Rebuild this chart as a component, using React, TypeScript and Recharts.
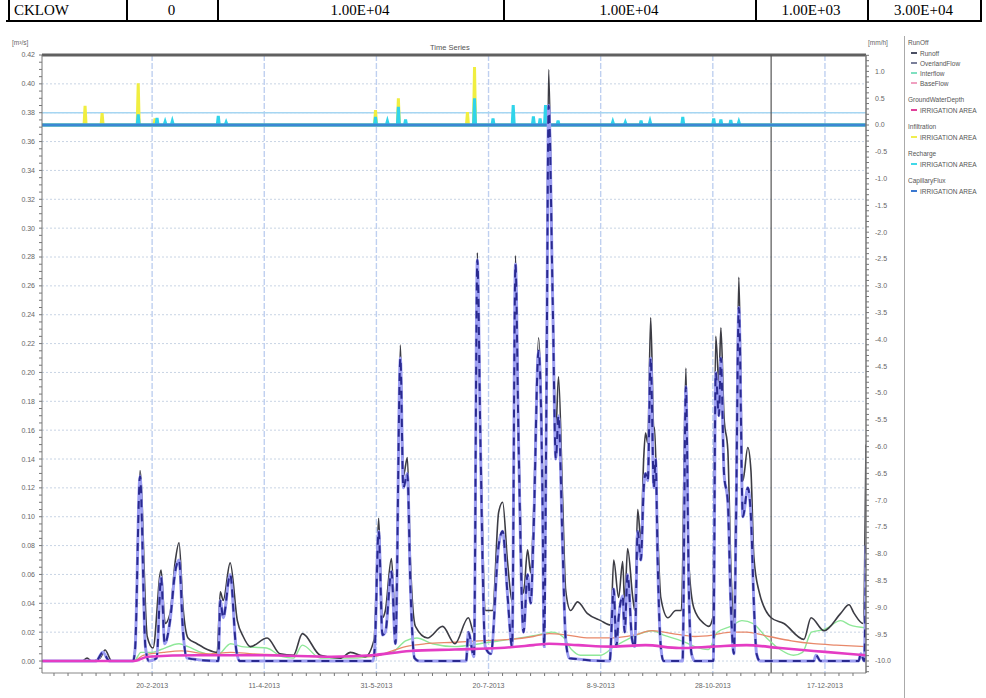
import { CartesianGrid, Line, LineChart, ReferenceLine, XAxis, YAxis } from "recharts";

// left axis [m3/s], points are [day of 2013 (0 = 1 Jan), value]
const runoff: [number, number][] = [
  [1, 0], [18.8, 0], [21, 0.002], [23, 0], [26.8, 0.002], [29, 0.0076], [32, 0], [41.5, 0], [42.4, 0.01],
  [44.6, 0.132], [47.8, 0.017], [50.4, 0.009], [54, 0.063], [55.8, 0.026], [58, 0.033], [60.3, 0.069],
  [62, 0.082], [63.8, 0.037], [66, 0.016], [70, 0.012], [74.6, 0.008], [79, 0.006], [80.4, 0.048],
  [81.7, 0.042], [84.8, 0.068], [88, 0.028], [90.6, 0.017], [93.8, 0.01], [101.3, 0.016], [107, 0.005],
  [113, 0.004], [117, 0.019], [125, 0.004], [134, 0.002], [138.4, 0.006], [145, 0.003], [149, 0.015],
  [151, 0.099], [152.7, 0.03], [154, 0.035], [156.7, 0.071], [158.5, 0.026], [160.7, 0.219], [162, 0.128],
  [163.8, 0.141], [165.2, 0.068], [167.4, 0.024], [172.8, 0.016], [179.5, 0.024], [185, 0.012], [191, 0.03],
  [193.8, 0.018], [195, 0.283], [196.4, 0.16], [198.7, 0.035], [201.8, 0.035], [204.5, 0.103], [206.3, 0.11],
  [208.5, 0.068], [210.7, 0.04], [212, 0.281], [213.4, 0.16], [215.6, 0.047], [217.4, 0.077], [218.8, 0.061],
  [220, 0.099], [222.3, 0.224], [224, 0.137], [224.8, 0.035], [225.9, 0.225], [226.8, 0.41], [228.6, 0.257],
  [230, 0.16], [231.2, 0.197], [233, 0.114], [234.4, 0.049], [236.6, 0.035], [239.7, 0.041], [244, 0.033],
  [250, 0.028], [254.5, 0.025], [255.8, 0.07], [258, 0.044], [259.8, 0.069], [260.7, 0.04], [262, 0.078],
  [264.3, 0.044], [265.2, 0.035], [266.5, 0.105], [267.9, 0.084], [269.2, 0.141], [270, 0.158], [271, 0.151],
  [272.3, 0.238], [273.7, 0.16], [274, 0.162], [275.4, 0.091], [276.8, 0.044], [280, 0.03], [283.5, 0.035],
  [286, 0.035], [288, 0.203], [289.3, 0.068], [291.5, 0.037], [296, 0.026], [298.2, 0.024], [300, 0.03],
  [301.3, 0.225], [302.7, 0.193], [303.6, 0.231], [305, 0.169], [306.7, 0.146], [308, 0.068], [309.4, 0.026],
  [310.3, 0.114], [311.6, 0.266], [313.4, 0.125], [315.6, 0.148], [317, 0.132], [318.3, 0.072], [320.5, 0.049],
  [326, 0.03], [331.7, 0.026], [340.6, 0.015], [343.8, 0.03], [349.6, 0.021], [357, 0.033], [360.7, 0.039],
  [363, 0.033], [367, 0.026], [368.3, 0.15],
];

const overlandFlow: [number, number][] = [
  [1, 0], [25, 0], [28, 0.006], [31, 0], [41.5, 0], [42.4, 0.008], [44.6, 0.128], [47, 0.01], [48.5, 0],
  [52, 0.002], [54, 0.058], [55.6, 0.012], [58, 0.028], [60.3, 0.062], [62, 0.07], [63.8, 0.02], [65.5, 0.002],
  [79.5, 0], [80.4, 0.042], [81.7, 0.03], [84.8, 0.06], [87.5, 0.008], [89, 0], [148.5, 0], [149.3, 0.01],
  [151, 0.09], [152.7, 0.018], [154, 0.02], [156.7, 0.062], [158.5, 0.012], [160.7, 0.21], [162, 0.12],
  [163.8, 0.13], [165.2, 0.05], [167, 0.002], [169, 0], [190, 0], [191, 0.02], [193.5, 0.003], [195, 0.278],
  [196.4, 0.15], [198.5, 0.01], [201, 0.005], [204.5, 0.08], [206.3, 0.09], [208.5, 0.045], [210.5, 0.01],
  [212, 0.275], [213.4, 0.15], [215.6, 0.02], [217.4, 0.06], [218.8, 0.04], [220, 0.085], [222.3, 0.215],
  [224, 0.12], [224.8, 0.01], [225.9, 0.2], [226.8, 0.385], [228.6, 0.25], [230, 0.14], [231.2, 0.17],
  [233, 0.08], [234.4, 0.015], [236, 0.002], [254, 0], [255.8, 0.05], [257, 0.01], [258, 0.03], [259.8, 0.045],
  [260.7, 0.02], [262, 0.06], [264, 0.015], [265.2, 0.01], [266.5, 0.09], [267.9, 0.07], [269.2, 0.12],
  [270, 0.13], [271, 0.125], [272.3, 0.21], [273.7, 0.12], [274.5, 0.14], [275.4, 0.07], [276.8, 0.01],
  [278, 0], [286.5, 0], [288, 0.19], [289.3, 0.05], [290.5, 0.005], [292, 0], [300.2, 0], [301.3, 0.2],
  [302.7, 0.17], [303.6, 0.21], [305, 0.13], [306.7, 0.11], [308, 0.04], [309.4, 0.005], [310.3, 0.09],
  [311.6, 0.245], [313.4, 0.1], [315.6, 0.12], [317, 0.1], [318.3, 0.04], [319.5, 0.005], [321, 0],
  [345, 0], [346, 0.004], [348, 0], [365, 0], [366, 0.005], [367.5, 0], [368.3, 0.08],
];

const interflow: [number, number][] = [
  [1, 0], [42, 0], [45, 0.006], [50, 0.006], [54, 0.008], [62, 0.012], [66, 0.01], [72, 0.006], [79, 0.004],
  [85, 0.012], [90, 0.01], [101, 0.009], [108, 0.003], [113, 0.002], [117, 0.011], [125, 0.002], [140, 0.002],
  [150, 0.004], [157, 0.006], [163, 0.014], [168, 0.016], [175, 0.012], [185, 0.01], [196, 0.012], [205, 0.014],
  [214, 0.016], [222, 0.018], [228, 0.02], [233, 0.017], [237, 0.008], [241, 0.004], [250, 0.004], [256, 0.01],
  [262, 0.015], [266, 0.018], [273, 0.021], [278, 0.018], [286, 0.014], [289, 0.012], [292, 0.01], [298, 0.008],
  [302, 0.02], [308, 0.024], [313, 0.028], [318, 0.026], [324, 0.016], [330, 0.008], [336, 0.004], [340, 0.006],
  [344, 0.02], [350, 0.022], [357, 0.028], [361, 0.025], [368.3, 0.023],
];

const baseFlow: [number, number][] = [
  [1, 0], [42, 0], [46, 0.004], [55, 0.006], [63, 0.007], [75, 0.005], [85, 0.006], [95, 0.005], [110, 0.004],
  [130, 0.003], [148, 0.003], [155, 0.006], [163, 0.01], [172, 0.012], [185, 0.013], [196, 0.014], [210, 0.015],
  [220, 0.017], [227, 0.019], [235, 0.018], [245, 0.016], [255, 0.016], [265, 0.018], [273, 0.021], [282, 0.019],
  [292, 0.017], [300, 0.018], [308, 0.02], [315, 0.02], [325, 0.017], [335, 0.014], [345, 0.012], [355, 0.011],
  [368.3, 0.01],
];

const groundWaterDepth: [number, number][] = [
  [1, 0], [42, 0], [48, 0.003], [70, 0.004], [100, 0.004], [130, 0.003], [148, 0.004], [165, 0.007],
  [185, 0.008], [205, 0.009], [220, 0.011], [227, 0.012], [240, 0.011], [255, 0.01], [270, 0.011],
  [285, 0.009], [300, 0.01], [315, 0.011], [330, 0.009], [345, 0.007], [360, 0.005], [368.3, 0.004],
];

// right axis [mm/h], short pulses
const infiltrationDays = [20.1, 27.7, 43.8, 51.3, 149.6, 159.8, 190.6, 193.75];
const infiltrationVals = [0.36, 0.22, 0.78, 0.12, 0.28, 0.5, 0.24, 1.08];
const rechargeDays = [43.8, 52.2, 55.8, 59, 79.5, 83, 149.6, 154.9, 159.8, 163, 193.75, 202, 211, 220, 223,
  225.4, 231, 255.4, 261, 268, 272, 286.6, 300.4, 303.6, 308, 311.6];
const rechargeVals = [0.2, 0.13, 0.06, 0.07, 0.17, 0.05, 0.15, 0.07, 0.34, 0.1, 0.5, 0.12, 0.37, 0.16, 0.12,
  0.37, 0.08, 0.06, 0.05, 0.08, 0.07, 0.15, 0.12, 0.1, 0.09, 0.06];
const capillaryFlux: [number, number][] = [[0.9, 0], [368.3, 0]];

const dateTickDays = [50, 100, 150, 200, 250, 300, 350];
const dateTickLabels = ["20-2-2013", "11-4-2013", "31-5-2013", "20-7-2013", "8-9-2013", "28-10-2013", "17-12-2013"];
const leftMajorTicks = [0, 0.02, 0.04, 0.06, 0.08, 0.1, 0.12, 0.14, 0.16, 0.18, 0.2, 0.22, 0.24, 0.26, 0.28,
  0.3, 0.32, 0.34, 0.36, 0.38, 0.4, 0.42];

const headerCells = ["CKLOW", "0", "1.00E+04", "1.00E+04", "1.00E+03", "3.00E+04"];
const headerBars = [8, 126, 217, 503, 755, 867, 980];

const legendGroups = [
  { title: "RunOff", items: [["Runoff", "#4a4f63"], ["OverlandFlow", "#7a7f9a"], ["Interflow", "#7fe0c0"], ["BaseFlow", "#f0a0c0"]] },
  { title: "GroundWaterDepth", items: [["IRRIGATION AREA", "#e0409a"]] },
  { title: "Infiltration", items: [["IRRIGATION AREA", "#f0ee50"]] },
  { title: "Recharge", items: [["IRRIGATION AREA", "#40d8e8"]] },
  { title: "CapillaryFlux", items: [["IRRIGATION AREA", "#3a78d0"]] },
];

const toRows = (pts: [number, number][]) => pts.map(([day, v]) => ({ day, v }));
const pulses = (days: number[], vals: number[]) => {
  const rows = [{ day: 0.9, v: 0 }];
  days.forEach((d, i) => {
    rows.push({ day: d - 0.45, v: 0 }, { day: d, v: vals[i] }, { day: d + 0.45, v: 0 });
  });
  rows.push({ day: 368.3, v: 0 });
  return rows;
};

const leftTicks: number[] = [];
for (let i = -1; i <= 84; i++) leftTicks.push(+(i * 0.005).toFixed(3));
const rightTicks: number[] = [];
for (let i = -102; i <= 13; i++) rightTicks.push(+(i * 0.1).toFixed(1));
const xTicks: number[] = [];
for (let d = 6.25; d <= 368; d += 6.25) xTicks.push(d);

const axisText = { fontSize: 7, fill: "#666", fontFamily: "Liberation Sans, Arial, sans-serif" };

export default function App() {
  return (
    <div style={{
      position: "absolute", left: 0, top: 0, width: 986, height: 698, overflow: "hidden",
      background: "#fff", fontFamily: "Liberation Sans, Arial, sans-serif",
    }}>
      {/* table row cut off above the figure */}
      {headerBars.map((x, i) => (
        <div key={"b" + i} style={{ position: "absolute", left: x, top: 0, width: 1.5, height: 21, background: "#000" }} />
      ))}
      <div style={{ position: "absolute", left: 6, top: 20, width: 976, height: 2, background: "#000" }} />
      {headerCells.map((t, i) => {
        const l = headerBars[i], r = headerBars[i + 1];
        return (
          <div key={"c" + i} style={{
            position: "absolute", top: 1, left: l, width: r - l, textAlign: i === 0 ? "left" : "center",
            paddingLeft: i === 0 ? 6 : 0, boxSizing: "border-box",
            fontFamily: "Liberation Serif, serif", fontSize: 15, color: "#000", lineHeight: "18px",
          }}>{t}</div>
        );
      })}

      <div style={{ position: "absolute", left: 12, top: 39, fontSize: 6.5, color: "#666" }}>[m³/s]</div>
      <div style={{ position: "absolute", left: 430, top: 43, fontSize: 7.5, color: "#555" }}>Time Series</div>
      <div style={{ position: "absolute", left: 868, top: 39, fontSize: 6.5, color: "#666" }}>[mm/h]</div>

      <LineChart
        width={986}
        height={698}
        margin={{ top: 55, right: 80, bottom: 0, left: 0 }}
        style={{ position: "absolute", left: 0, top: 0 }}
      >
        <CartesianGrid yAxisId="left" vertical={false} horizontalValues={leftMajorTicks}
          stroke="#c8d4e4" strokeDasharray="2 2" />
        <CartesianGrid yAxisId="left" horizontal={false} verticalValues={dateTickDays}
          stroke="#bfd0f0" strokeWidth={1.4} strokeDasharray="6 2" />
        <XAxis
          dataKey="day"
          type="number"
          domain={[0.9, 368.3]}
          allowDataOverflow
          ticks={xTicks}
          interval={0}
          tickSize={3}
          tickMargin={7}
          tick={axisText}
          tickFormatter={(d: number) => {
            const k = dateTickDays.indexOf(d);
            return k >= 0 ? dateTickLabels[k] : "";
          }}
          axisLine={{ stroke: "#888" }}
          tickLine={{ stroke: "#777" }}
          height={25}
        />
        <YAxis
          yAxisId="left"
          type="number"
          domain={[-0.0083, 0.42]}
          allowDataOverflow
          ticks={leftTicks}
          interval={0}
          tickSize={3}
          tickMargin={4}
          width={42}
          tick={axisText}
          tickFormatter={(v: number) => (Math.round(v * 1000) % 20 === 0 && v >= 0 ? v.toFixed(2) : "")}
          axisLine={{ stroke: "#777" }}
          tickLine={{ stroke: "#777" }}
        />
        <YAxis
          yAxisId="right"
          orientation="right"
          type="number"
          domain={[-10.224, 1.306]}
          allowDataOverflow
          ticks={rightTicks}
          interval={0}
          tickSize={3}
          tickMargin={6}
          width={40}
          tick={axisText}
          tickFormatter={(v: number) => (Math.round(v * 10) % 5 === 0 && v >= -10 ? v.toFixed(1) : "")}
          axisLine={{ stroke: "#777", strokeWidth: 1.5 }}
          tickLine={{ stroke: "#777" }}
        />

        <ReferenceLine yAxisId="left" y={0.38} stroke="#a6d6f2" strokeWidth={1.5} />
        <ReferenceLine yAxisId="left" y={0.42} stroke="#606060" strokeWidth={3} />
        <ReferenceLine yAxisId="left" x={326} stroke="#555" strokeWidth={1.2} />

        <Line yAxisId="right" data={pulses(infiltrationDays, infiltrationVals)} dataKey="v" type="linear"
          stroke="#f0ee40" strokeWidth={3} dot={false} isAnimationActive={false} />
        <Line yAxisId="right" data={pulses(rechargeDays, rechargeVals)} dataKey="v" type="linear"
          stroke="#30d4ea" strokeWidth={3} dot={false} isAnimationActive={false} />
        <Line yAxisId="right" data={toRows(capillaryFlux)} dataKey="v" type="linear"
          stroke="#3a88d4" strokeWidth={3} dot={false} isAnimationActive={false} />

        <Line yAxisId="left" data={toRows(interflow)} dataKey="v" type="monotone"
          stroke="#8ee898" strokeWidth={1.4} dot={false} isAnimationActive={false} />
        <Line yAxisId="left" data={toRows(baseFlow)} dataKey="v" type="monotone"
          stroke="#e8886a" strokeWidth={1.3} dot={false} isAnimationActive={false} />
        <Line yAxisId="left" data={toRows(runoff)} dataKey="v" type="monotone"
          stroke="#3c3c44" strokeWidth={1.6} dot={false} isAnimationActive={false} />
        <Line yAxisId="left" data={toRows(overlandFlow)} dataKey="v" type="monotone"
          stroke="#9c9ef2" strokeWidth={3} dot={false} isAnimationActive={false} />
        <Line yAxisId="left" data={toRows(overlandFlow)} dataKey="v" type="monotone"
          stroke="#2a2a90" strokeWidth={2} strokeDasharray="8 6" dot={false} isAnimationActive={false} />
        <Line yAxisId="left" data={toRows(groundWaterDepth)} dataKey="v" type="monotone"
          stroke="#e43cc4" strokeWidth={2.6} dot={false} isAnimationActive={false} />
      </LineChart>

      {/* legend panel */}
      <div style={{ position: "absolute", left: 904, top: 36, width: 1, height: 662, background: "#aaa" }} />
      <div style={{ position: "absolute", left: 908, top: 38, width: 78, whiteSpace: "nowrap" }}>
        {legendGroups.map((g) => (
          <div key={g.title} style={{ marginBottom: 7 }}>
            <div style={{ fontSize: 6.5, color: "#555", lineHeight: "10px" }}>{g.title}</div>
            {g.items.map(([name, color], i) => (
              <div key={i} style={{ display: "flex", alignItems: "center", height: 10 }}>
                <span style={{ width: 6, height: 1.5, background: color, marginLeft: 3, marginRight: 3 }} />
                <span style={{ fontSize: 6.5, color: "#555" }}>{name}</span>
              </div>
            ))}
          </div>
        ))}
      </div>
    </div>
  );
}
